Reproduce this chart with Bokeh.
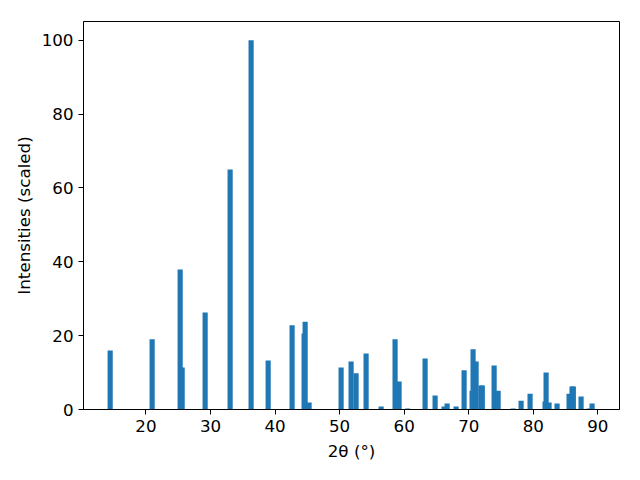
from bokeh.plotting import figure
from bokeh.models import ColumnDataSource, FixedTicker, Range1d
from bokeh.embed import file_html
from bokeh.resources import INLINE

two_theta = [14.46, 20.96, 25.30, 25.61, 29.17, 33.04, 36.29, 38.93, 42.64, 44.50,
             44.66, 45.27, 50.23, 51.78, 52.55, 54.10, 56.43, 58.59, 59.21, 60.53,
             63.24, 64.79, 66.18, 66.65, 68.04, 69.28, 70.52, 70.67, 71.14, 71.90,
             72.10, 73.93, 74.55, 76.87, 78.11, 79.50, 81.82, 81.98, 82.44, 83.68,
             85.54, 86.00, 86.20, 87.40, 88.64, 89.10]
intensity = [16.0, 19.0, 37.9, 11.4, 26.3, 65.0, 100.0, 13.3, 22.8, 20.6,
             23.8, 1.9, 11.4, 13.0, 9.8, 15.2, 0.8, 19.0, 7.6, 0.3,
             13.8, 3.8, 0.8, 1.6, 0.8, 10.6, 5.1, 16.3, 13.0, 6.5,
             6.5, 11.9, 5.1, 0.3, 2.4, 4.3, 2.2, 10.0, 1.9, 1.6,
             4.3, 6.2, 6.2, 3.5, 0.3, 1.6]
x_ticks = [20, 30, 40, 50, 60, 70, 80, 90]
y_ticks = [0, 20, 40, 60, 80, 100]

src = ColumnDataSource(dict(x=two_theta, top=intensity))

p = figure(frame_width=536, frame_height=388, output_backend="svg",
           toolbar_location=None, x_range=Range1d(10.33, 93.35),
           y_range=Range1d(0, 105.1), min_border_left=83, min_border_right=5,
           min_border_top=21, min_border_bottom=55)
p.vbar(x="x", top="top", width=0.8, bottom=0, source=src,
       fill_color="#1f77b4", line_color=None)

p.xgrid.visible = False
p.ygrid.visible = False
p.outline_line_color = "black"
p.outline_line_width = 1
p.outline_line_alpha = 1

font = "DejaVu Sans"
for ax in (p.xaxis[0], p.yaxis[0]):
    ax.major_label_text_font = font
    ax.major_label_text_font_size = "16.7px"
    ax.major_label_text_color = "black"
    ax.axis_label_text_font = font
    ax.axis_label_text_font_size = "16.7px"
    ax.axis_label_text_font_style = "normal"
    ax.axis_label_text_color = "black"
    ax.minor_tick_line_color = None
    ax.major_tick_out = 5
    ax.major_tick_in = 0
    ax.major_tick_line_color = "black"
    ax.axis_line_color = "black"
    ax.major_label_standoff = 5

p.xaxis.ticker = FixedTicker(ticks=x_ticks)
p.yaxis.ticker = FixedTicker(ticks=y_ticks)
p.xaxis.axis_label = "2θ (°)"
p.yaxis.axis_label = "Intensities (scaled)"
p.xaxis.axis_label_standoff = 6
p.yaxis.axis_label_standoff = 5

open("out.html", "w").write(file_html(p, INLINE))
